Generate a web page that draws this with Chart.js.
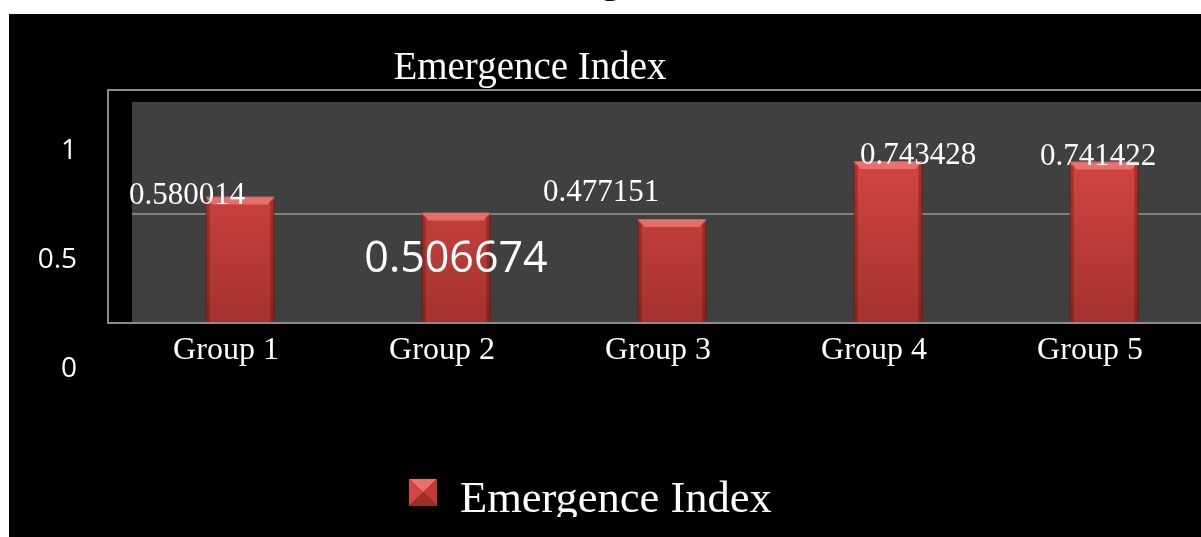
<!DOCTYPE html>
<html>
<head>
<meta charset="utf-8">
<script src="https://cdn.jsdelivr.net/npm/chart.js@4.4.0/dist/chart.umd.min.js"></script>
<style>
  html, body { margin:0; padding:0; background:#fff; overflow:hidden; width:1201px; height:537px; }
  #cut { position:absolute; left:505px; top:-44px; font:44px 'Liberation Serif', serif; line-height:44px; color:#000; white-space:nowrap; }
  #chart { position:absolute; left:9px; top:14px; background:#000; }
</style>
</head>
<body>
<div id="cut">Emergence Index</div>
<canvas id="chart" width="1240" height="523"></canvas>
<script>
// --- data ---
const groups = ['Group 1', 'Group 2', 'Group 3', 'Group 4', 'Group 5'];
const emergence = [0.580014, 0.506674, 0.477151, 0.743428, 0.741422];
const yTicks = [0, 0.5, 1];
const seriesName = 'Emergence Index';
const chartTitle = 'Emergence Index';

// where each value label sits, relative to its bar top
const labelDx = [-53, 0, -71, 30, -6];
const labelDy = [-1, 47, -26, -5, -5];
const labelFont = ['31px "Liberation Serif"', '43px "Open Sans"', '31px "Liberation Serif"',
                   '31px "Liberation Serif"', '31px "Liberation Serif"'];

function pyramid(ctx, x, y, w, h) {
  const cx = x + w / 2, cy = y + h / 2;
  const faces = [
    ['#ef6f6a', [[x, y], [x + w, y]]],
    ['#c33b37', [[x + w, y], [x + w, y + h]]],
    ['#9c2f2b', [[x + w, y + h], [x, y + h]]],
    ['#d84541', [[x, y + h], [x, y]]]
  ];
  faces.forEach(([c, pts]) => {
    ctx.fillStyle = c;
    ctx.beginPath();
    ctx.moveTo(pts[0][0], pts[0][1]);
    ctx.lineTo(pts[1][0], pts[1][1]);
    ctx.lineTo(cx, cy);
    ctx.closePath();
    ctx.fill();
  });
}

const decor = {
  id: 'decor',
  beforeDraw(chart) {
    const { ctx, chartArea: a } = chart;
    ctx.save();
    ctx.fillStyle = '#404040';
    ctx.fillRect(a.left, a.top, a.right - a.left, a.bottom - a.top);
    ctx.restore();
  },
  afterDatasetsDraw(chart) {
    const { ctx, chartArea: a } = chart;
    const meta = chart.getDatasetMeta(0);
    ctx.save();
    // bevel on bar tops and sides
    meta.data.forEach(bar => {
      const l = bar.x - bar.width / 2, r = bar.x + bar.width / 2, t = bar.y, b = bar.base;
      ctx.fillStyle = 'rgba(255,150,145,0.55)';
      ctx.beginPath();
      ctx.moveTo(l, t); ctx.lineTo(r, t); ctx.lineTo(r - 7, t + 8); ctx.lineTo(l + 7, t + 8);
      ctx.closePath(); ctx.fill();
      ctx.fillStyle = 'rgba(90,10,10,0.35)';
      ctx.fillRect(l, t + 4, 4, b - t - 4);
      ctx.fillRect(r - 4, t + 4, 4, b - t - 4);
    });
    // frame round the plot
    ctx.strokeStyle = '#8c8c8c';
    ctx.lineWidth = 2;
    ctx.beginPath();
    ctx.moveTo(chart.width + 5, a.top - 12);
    ctx.lineTo(a.left - 24, a.top - 12);
    ctx.lineTo(a.left - 24, a.bottom);
    ctx.lineTo(chart.width + 5, a.bottom);
    ctx.stroke();
    // value labels
    ctx.fillStyle = '#fff';
    ctx.textAlign = 'center';
    ctx.textBaseline = 'middle';
    meta.data.forEach((bar, i) => {
      ctx.font = labelFont[i];
      ctx.fillText(String(emergence[i]), bar.x + labelDx[i], bar.y + labelDy[i]);
    });
    ctx.restore();
  },
  afterDraw(chart) {
    const ctx = chart.ctx;
    ctx.save();
    ctx.fillStyle = '#fff';
    ctx.textAlign = 'center';
    ctx.textBaseline = 'alphabetic';
    ctx.font = '39px "Liberation Serif"';
    ctx.fillText(chartTitle, 521, 65);
    // legend
    ctx.beginPath();
    ctx.rect(0, 0, chart.width, 503);
    ctx.clip();
    pyramid(ctx, 400, 465, 28, 27);
    ctx.fillStyle = '#fff';
    ctx.textAlign = 'left';
    ctx.font = '44.5px "Liberation Serif"';
    ctx.fillText(chart.data.datasets[0].label, 451, 498);
    ctx.restore();
  }
};

const ctx = document.getElementById('chart').getContext('2d');
const grad = ctx.createLinearGradient(0, 88, 0, 309);
grad.addColorStop(0, '#e44c48');
grad.addColorStop(1, '#a3322e');

new Chart(ctx, {
  type: 'bar',
  data: {
    labels: groups,
    datasets: [{
      label: seriesName,
      data: emergence,
      backgroundColor: grad,
      borderColor: '#7e2522',
      borderWidth: 1,
      barPercentage: 0.8,
      categoryPercentage: 0.4
    }]
  },
  options: {
    responsive: false,
    animation: false,
    layout: { padding: { top: 88, right: 37, left: 0, bottom: 0 } },
    plugins: { legend: { display: false }, title: { display: false }, tooltip: { enabled: false } },
    scales: {
      x: {
        grid: { display: false, drawTicks: false },
        border: { display: false },
        ticks: { color: '#fff', font: { family: 'Liberation Serif', size: 32 }, padding: 8,
                 labelOffset: -14, maxRotation: 0, autoSkip: false },
        afterFit: s => { s.height = 214; }
      },
      y: {
        min: 0, max: 1.0138,
        afterBuildTicks: s => { s.ticks = yTicks.map(v => ({ value: v })); },
        grid: { drawTicks: false, lineWidth: 2,
                color: c => (c.tick && c.tick.value === 0.5) ? '#808080' : 'rgba(0,0,0,0)' },
        border: { display: false },
        ticks: { color: '#fff', font: { family: 'Open Sans', size: 28 }, padding: 55,
                 labelOffset: 46, callback: v => String(v) },
        afterFit: s => { s.width = 123; }
      }
    }
  },
  plugins: [decor]
});
</script>
</body>
</html>
